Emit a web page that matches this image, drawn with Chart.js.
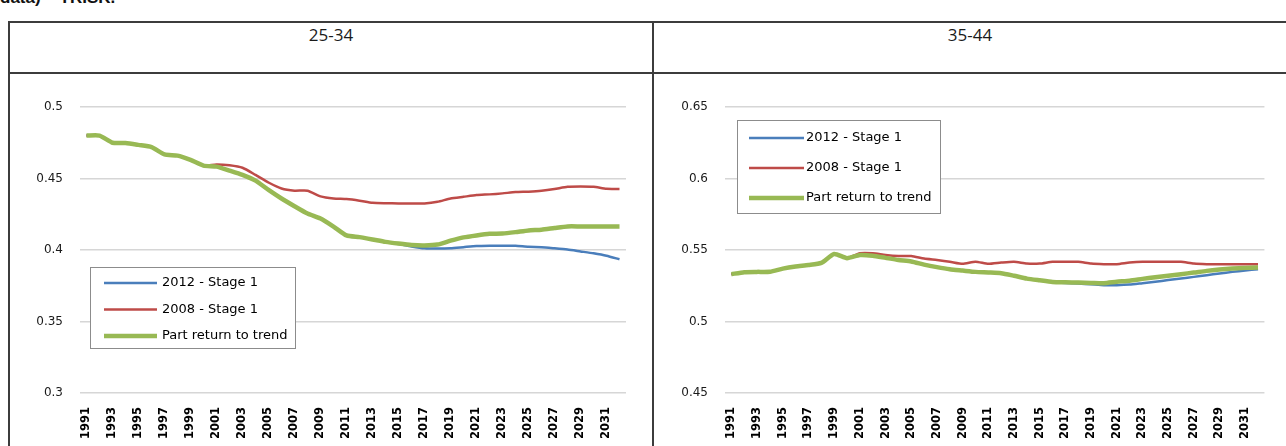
<!DOCTYPE html>
<html lang="en">
<head>
<meta charset="UTF-8">
<title>Participation by age group</title>
<script src="https://cdn.jsdelivr.net/npm/chart.js"></script>
<style>
  body { margin: 0; background: #fff; width: 1286px; height: 446px; overflow: hidden; position: relative; }
  .caption { position: absolute; left: 0; top: -12px; font: bold 17px "Liberation Sans", Arial, sans-serif; color: #111; white-space: nowrap; }
  .line { position: absolute; background: #3c3c3c; }
  .head { position: absolute; top: 23px; height: 50px; line-height: 50px; text-align: center; font: 17px "Open Sans", sans-serif; color: #1a1a1a; }
  .box { position: absolute; top: 75px; }
</style>
</head>
<body>
  <div class="caption">data) – TRISK.</div>

  <div class="line" style="left:8px; top:21px; width:1278px; height:2px;"></div>
  <div class="line" style="left:8px; top:72px; width:1278px; height:2px;"></div>
  <div class="line" style="left:8px; top:21px; width:2px; height:425px;"></div>
  <div class="line" style="left:652px; top:21px; width:2px; height:425px;"></div>

  <div class="head" style="left:10px; width:642px;">25-34</div>
  <div class="head" style="left:654px; width:632px;">35-44</div>

  <div class="box" style="left:11px;"><canvas id="chart2534" width="640" height="371"></canvas></div>
  <div class="box" style="left:654px;"><canvas id="chart3544" width="632" height="371"></canvas></div>

<script>
// categories
const years = [1991, 1992, 1993, 1994, 1995, 1996, 1997, 1998, 1999, 2000,
               2001, 2002, 2003, 2004, 2005, 2006, 2007, 2008, 2009, 2010,
               2011, 2012, 2013, 2014, 2015, 2016, 2017, 2018, 2019, 2020,
               2021, 2022, 2023, 2024, 2025, 2026, 2027, 2028, 2029, 2030,
               2031, 2032];

const seriesNames = ['2012 - Stage 1', '2008 - Stage 1', 'Part return to trend'];

// 25-34
const stage2012_2534 = [0.480, 0.480, 0.475, 0.4748, 0.4735, 0.472, 0.4668, 0.466, 0.463, 0.459,
                        0.4583, 0.4555, 0.4525, 0.4485, 0.442, 0.436, 0.4306, 0.4255, 0.422, 0.4164,
                        0.4102, 0.409, 0.4074, 0.4057, 0.4042, 0.4025, 0.4012, 0.401, 0.4012, 0.402,
                        0.4028, 0.403, 0.403, 0.403, 0.4022, 0.402, 0.4012, 0.4003, 0.399, 0.3977,
                        0.396, 0.3935];
const stage2008_2534 = [0.480, 0.480, 0.475, 0.4748, 0.4735, 0.472, 0.4668, 0.466, 0.463, 0.459,
                        0.4598, 0.4592, 0.4575, 0.4525, 0.4472, 0.443, 0.4415, 0.4415, 0.4375, 0.436,
                        0.4356, 0.4345, 0.433, 0.4327, 0.4326, 0.4326, 0.4326, 0.4337, 0.436, 0.4372,
                        0.4384, 0.4389, 0.4396, 0.4405, 0.4408, 0.4414, 0.4426, 0.4442, 0.4444, 0.4442,
                        0.4428, 0.4427];
const trend_2534 = [0.480, 0.480, 0.475, 0.4748, 0.4735, 0.472, 0.4668, 0.466, 0.463, 0.459,
                    0.4583, 0.4555, 0.4525, 0.4485, 0.442, 0.436, 0.4306, 0.4255, 0.422, 0.4164,
                    0.4102, 0.409, 0.4074, 0.4057, 0.4045, 0.4035, 0.4032, 0.4038, 0.4065, 0.4088,
                    0.4102, 0.4113, 0.4115, 0.4125, 0.4137, 0.4142, 0.4154, 0.4165, 0.4165, 0.4165,
                    0.4165, 0.4165];

// 35-44
const stage2012_3544 = [0.5331, 0.5345, 0.5347, 0.5348, 0.537, 0.5385, 0.5395, 0.541, 0.5472, 0.5443,
                        0.5465, 0.546, 0.5445, 0.543, 0.542, 0.5398, 0.538, 0.5365, 0.5356, 0.5347,
                        0.5343, 0.5338, 0.532, 0.530, 0.5288, 0.5277, 0.527, 0.5265, 0.526, 0.5254,
                        0.5254, 0.5258, 0.5268, 0.5278, 0.529, 0.530, 0.5312, 0.5324, 0.5336, 0.5347,
                        0.5357, 0.5366];
const stage2008_3544 = [0.5331, 0.5345, 0.5347, 0.5348, 0.537, 0.5385, 0.5395, 0.541, 0.5472, 0.5443,
                        0.5477, 0.5477, 0.5465, 0.5458, 0.5458, 0.544, 0.543, 0.5418, 0.5403, 0.5418,
                        0.5403, 0.5412, 0.5418, 0.5405, 0.5405, 0.5418, 0.5418, 0.5418, 0.5405, 0.5401,
                        0.5401, 0.5412, 0.5418, 0.5418, 0.5418, 0.5418, 0.5405, 0.5401, 0.5401, 0.5401,
                        0.5401, 0.5401];
const trend_3544 = [0.5331, 0.5345, 0.5347, 0.5348, 0.537, 0.5385, 0.5395, 0.541, 0.5472, 0.5443,
                    0.5465, 0.546, 0.5445, 0.543, 0.542, 0.5398, 0.538, 0.5365, 0.5356, 0.5347,
                    0.5343, 0.5338, 0.532, 0.530, 0.5288, 0.5277, 0.5274, 0.5272, 0.527, 0.5268,
                    0.5278, 0.5285, 0.5298, 0.531, 0.532, 0.5331, 0.5342, 0.5354, 0.5363, 0.537,
                    0.5375, 0.5378];

const blue = '#4a7ebb', red = '#be4b48', green = '#98b954';

// legend drawn inside the plot, Excel style
const boxLegend = {
  id: 'boxLegend',
  afterDatasetsDraw(chart, args, o) {
    const ctx = chart.ctx;
    ctx.save();
    ctx.fillStyle = '#fff';
    ctx.fillRect(o.x, o.y, o.w, o.h);
    ctx.strokeStyle = '#8c8c8c';
    ctx.lineWidth = 1;
    ctx.strokeRect(o.x + 0.5, o.y + 0.5, o.w, o.h);
    ctx.font = '13px "DejaVu Sans"';
    ctx.textBaseline = 'middle';
    chart.data.datasets.forEach((ds, i) => {
      const y = o.y + o.first + i * o.gap;
      ctx.strokeStyle = ds.borderColor;
      ctx.lineWidth = ds.borderWidth;
      ctx.beginPath();
      ctx.moveTo(o.x + o.lx0, y);
      ctx.lineTo(o.x + o.lx1, y);
      ctx.stroke();
      ctx.fillStyle = '#000';
      ctx.fillText(ds.label, o.x + o.tx, y);
    });
    ctx.restore();
  }
};

function fmt(v) {
  return String(Math.round(v * 100) / 100);
}

function makeChart(id, s2012, s2008, sTrend, yMin, yMax, yW, padRight, legend) {
  return new Chart(document.getElementById(id), {
    type: 'line',
    data: {
      labels: years,
      datasets: [
        { label: seriesNames[0], data: s2012, borderColor: blue, borderWidth: 2.5, order: 2 },
        { label: seriesNames[1], data: s2008, borderColor: red, borderWidth: 2.5, order: 1 },
        { label: seriesNames[2], data: sTrend, borderColor: green, borderWidth: 4.5, order: 0 }
      ]
    },
    options: {
      responsive: false,
      animation: false,
      devicePixelRatio: 1,
      elements: { point: { radius: 0 }, line: { tension: 0.2 } },
      layout: { padding: { top: 32, right: padRight, left: 0, bottom: 0 } },
      plugins: { legend: { display: false }, tooltip: { enabled: false }, boxLegend: legend },
      scales: {
        x: {
          type: 'category',
          offset: true,
          grid: { display: false, drawTicks: false },
          border: { display: false },
          afterFit: s => { s.height = 53; },
          ticks: {
            autoSkip: false,
            minRotation: 90,
            maxRotation: 90,
            padding: 14,
            color: '#000',
            font: { family: 'DejaVu Sans', size: 11.5, weight: 'bold' },
            callback: (v, i) => (i % 2 === 0 ? String(years[i]) : '')
          }
        },
        y: {
          min: yMin,
          max: yMax,
          grid: { color: '#d6d6d6', lineWidth: 1.5, drawTicks: false },
          border: { display: false },
          afterFit: s => { s.width = yW; },
          ticks: {
            stepSize: 0.05,
            padding: 17,
            color: '#1a1a1a',
            font: { family: 'DejaVu Sans', size: 12 },
            callback: v => fmt(v)
          }
        }
      }
    },
    plugins: [boxLegend]
  });
}

makeChart('chart2534', stage2012_2534, stage2008_2534, trend_2534, 0.3, 0.5, 69, 25,
  { x: 79, y: 192, w: 205, h: 81, first: 16, gap: 26.5, lx0: 14, lx1: 67, tx: 72 });
makeChart('chart3544', stage2012_3544, stage2008_3544, trend_3544, 0.45, 0.65, 71, 15,
  { x: 83, y: 45, w: 203, h: 93, first: 18, gap: 30, lx0: 12, lx1: 67, tx: 69 });
</script>
</body>
</html>
